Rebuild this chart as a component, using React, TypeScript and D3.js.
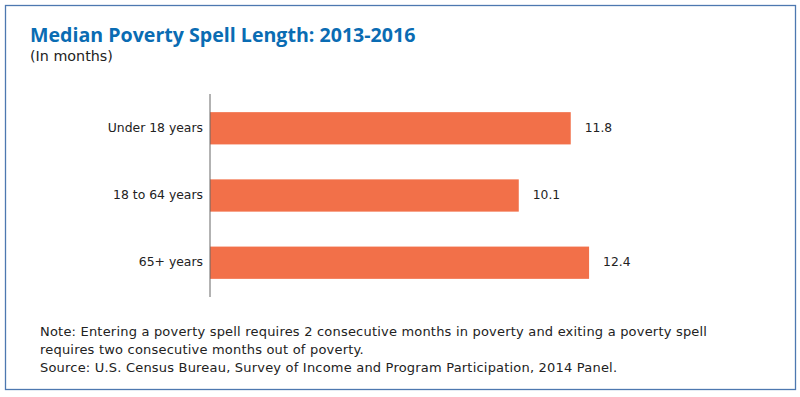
import React from "react";
import * as d3 from "d3";

const categories = ["Under 18 years", "18 to 64 years", "65+ years"];
const values = [11.8, 10.1, 12.4];
const noteLines = [
  "Note: Entering a poverty spell requires 2 consecutive months in poverty and exiting a poverty spell",
  "requires two consecutive months out of poverty.",
  "Source: U.S. Census Bureau, Survey of Income and Program Participation, 2014 Panel.",
];

const App: React.FC = () => {
  const width = 800;
  const height = 397;
  const axisX = 210;

  // 0..14 months spans roughly 428px in the original
  const x = d3.scaleLinear().domain([0, 14]).range([axisX, axisX + 428]);
  const y = d3
    .scaleBand()
    .domain(categories)
    .range([94, 297])
    .paddingInner(0.52)
    .paddingOuter(0.27);

  const titleFont = "'Open Sans', sans-serif";
  const font = "'DejaVu Sans', sans-serif";

  return (
    <svg
      width={width}
      height={height}
      style={{ position: "absolute", left: 0, top: 0, background: "#fff" }}
    >
      {/* frame */}
      <rect x={5.5} y={5.5} width={790} height={384} fill="none" stroke="#4d78b0" strokeWidth={1.3} />

      {/* title */}
      <text x={30} y={42} fill="#0a6cb3" fontFamily={titleFont} fontWeight={700} fontSize={19.6}>
        Median Poverty Spell Length: 2013-2016
      </text>
      <text x={30} y={61} fill="#222" fontFamily={font} fontSize={14.3}>
        (In months)
      </text>

      {/* Bars */}
      {values.map((v, i) => (
        <rect
          key={categories[i]}
          x={x(0)}
          y={y(categories[i])}
          width={x(v) - x(0)}
          height={y.bandwidth()}
          fill="#f27049"
        />
      ))}

      {/* category labels */}
      {categories.map((c) => (
        <text
          key={c}
          x={axisX - 7}
          y={y(c)! + y.bandwidth() / 2}
          textAnchor="end"
          dominantBaseline="middle"
          fontFamily={font}
          fontSize={12.4}
          fill="#222"
        >
          {c}
        </text>
      ))}

      {/* value labels */}
      {values.map((v, i) => (
        <text
          key={categories[i]}
          x={x(v) + 14}
          y={y(categories[i])! + y.bandwidth() / 2}
          dominantBaseline="middle"
          fontFamily={font}
          fontSize={12.3}
          fill="#222"
        >
          {v.toFixed(1)}
        </text>
      ))}

      {/* Y axis line */}
      <line x1={axisX} x2={axisX} y1={94} y2={297} stroke="#666" strokeWidth={1} />

      {/* notes */}
      {noteLines.map((t, i) => (
        <text
          key={i}
          x={40}
          y={336 + i * 18}
          fontFamily={font}
          fontSize={13}
          letterSpacing={0.2}
          fill="#222"
        >
          {t}
        </text>
      ))}
    </svg>
  );
};

export default App;
